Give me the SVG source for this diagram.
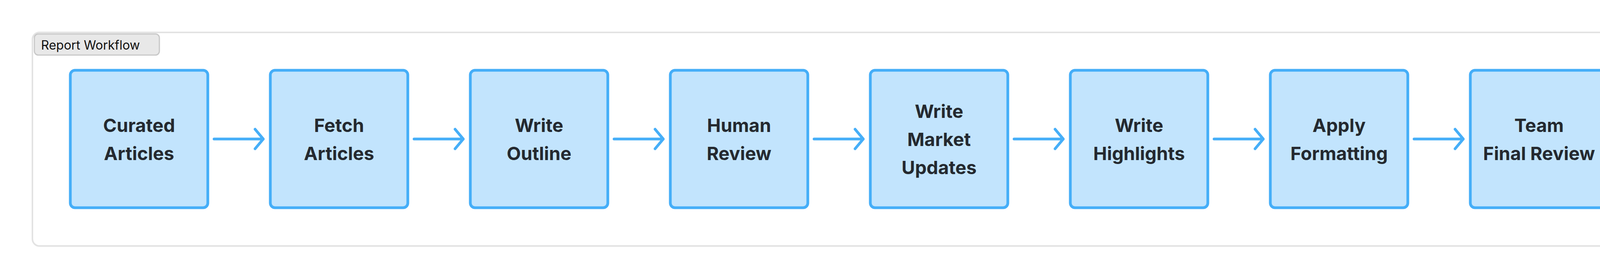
<svg xmlns="http://www.w3.org/2000/svg" width="4296" height="712" viewBox="0 0 4296 712">
<style>
.n rect{fill:#c2e4fd;stroke:#45aef8;stroke-width:7}
.n text{font-family:Inter,"Liberation Sans",sans-serif;font-weight:700;font-size:47px;fill:#24292f;text-anchor:middle}
.c path{fill:none;stroke:#45aef8;stroke-width:7;stroke-linecap:round;stroke-linejoin:round}
</style>
<rect width="4296" height="712" fill="#fff"/>
<g id="container">
<rect x="83" y="83" width="4129" height="547" rx="18" fill="#fff" stroke="#e3e3e3" stroke-width="4"/>
<rect x="88" y="87" width="320" height="54" rx="10" fill="#e8e8e8" stroke="#c8c8c8" stroke-width="3"/>
<text x="105" y="127" font-family="Inter,'Liberation Sans',sans-serif" font-size="32" fill="#111">Report Workflow</text>
</g>
<g class="c" id="connectors">
<path d="M548 356H674M653 331L674 356L653 381"/>
<path d="M1060 356H1186M1165 331L1186 356L1165 381"/>
<path d="M1572 356H1698M1677 331L1698 356L1677 381"/>
<path d="M2084 356H2210M2189 331L2210 356L2189 381"/>
<path d="M2596 356H2722M2701 331L2722 356L2701 381"/>
<path d="M3108 356H3234M3213 331L3234 356L3213 381"/>
<path d="M3620 356H3746M3725 331L3746 356L3725 381"/>
</g>
<g class="n" id="n1"><rect x="180" y="180" width="352" height="352" rx="12"/><text x="356" y="338">Curated</text><text x="356" y="410">Articles</text></g>
<g class="n" id="n2"><rect x="692" y="180" width="352" height="352" rx="12"/><text x="868" y="338">Fetch</text><text x="868" y="410">Articles</text></g>
<g class="n" id="n3"><rect x="1204" y="180" width="352" height="352" rx="12"/><text x="1380" y="338">Write</text><text x="1380" y="410">Outline</text></g>
<g class="n" id="n4"><rect x="1716" y="180" width="352" height="352" rx="12"/><text x="1892" y="338">Human</text><text x="1892" y="410">Review</text></g>
<g class="n" id="n5"><rect x="2228" y="180" width="352" height="352" rx="12"/><text x="2404" y="302">Write</text><text x="2404" y="374">Market</text><text x="2404" y="446">Updates</text></g>
<g class="n" id="n6"><rect x="2740" y="180" width="352" height="352" rx="12"/><text x="2916" y="338">Write</text><text x="2916" y="410">Highlights</text></g>
<g class="n" id="n7"><rect x="3252" y="180" width="352" height="352" rx="12"/><text x="3428" y="338">Apply</text><text x="3428" y="410">Formatting</text></g>
<g class="n" id="n8"><rect x="3764" y="180" width="352" height="352" rx="12"/><text x="3940" y="338">Team</text><text x="3940" y="410">Final Review</text></g>
</svg>
